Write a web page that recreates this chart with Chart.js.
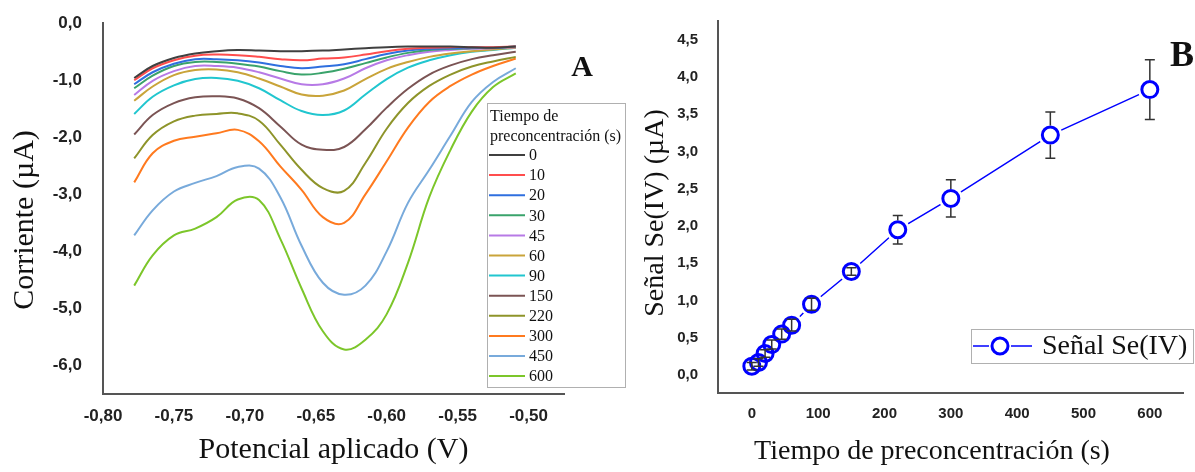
<!DOCTYPE html>
<html lang="es">
<head>
<meta charset="UTF-8">
<title>Señal Se(IV) - tiempo de preconcentración</title>
<script src="https://cdn.jsdelivr.net/npm/chart.js"></script>
<style>
  body { margin: 0; background: #fff; }
  #wrap { position: relative; width: 1195px; height: 472px; }
  #chartA { position: absolute; left: 0; top: 0; }
  #chartB { position: absolute; left: 620px; top: 0; }
</style>
</head>
<body>
<div id="wrap">
  <canvas id="chartA" width="640" height="472"></canvas>
  <canvas id="chartB" width="575" height="472"></canvas>
</div>

<script>
  // ---- Panel A: voltammograms ----
  const potentials = [-0.778, -0.765, -0.75, -0.735, -0.72, -0.705, -0.69, -0.675, -0.66, -0.645,
                      -0.63, -0.615, -0.60, -0.585, -0.57, -0.555, -0.54, -0.525, -0.509];
  const t0   = [-0.96, -0.75, -0.61, -0.53, -0.49, -0.47, -0.48, -0.49, -0.49, -0.48, -0.46, -0.44, -0.42, -0.41, -0.41, -0.41, -0.42, -0.43, -0.41];
  const t10  = [-1.00, -0.79, -0.65, -0.57, -0.55, -0.56, -0.59, -0.63, -0.65, -0.62, -0.60, -0.55, -0.49, -0.45, -0.43, -0.42, -0.42, -0.42, -0.41];
  const t20  = [-1.07, -0.86, -0.71, -0.63, -0.63, -0.65, -0.69, -0.75, -0.79, -0.76, -0.72, -0.63, -0.54, -0.48, -0.45, -0.44, -0.43, -0.43, -0.41];
  const t30  = [-1.14, -0.92, -0.75, -0.68, -0.68, -0.71, -0.76, -0.84, -0.90, -0.87, -0.80, -0.70, -0.60, -0.52, -0.47, -0.45, -0.44, -0.43, -0.41];
  const t45  = [-1.26, -1.01, -0.84, -0.75, -0.75, -0.78, -0.86, -0.97, -1.07, -1.07, -0.97, -0.79, -0.65, -0.56, -0.50, -0.47, -0.45, -0.44, -0.42];
  const t60  = [-1.36, -1.11, -0.91, -0.82, -0.81, -0.86, -0.97, -1.11, -1.25, -1.27, -1.18, -0.98, -0.80, -0.68, -0.59, -0.53, -0.49, -0.46, -0.43];
  const t90  = [-1.59, -1.29, -1.09, -0.98, -0.96, -1.01, -1.14, -1.35, -1.54, -1.61, -1.53, -1.25, -0.98, -0.78, -0.65, -0.56, -0.50, -0.47, -0.43];
  const t150 = [-1.95, -1.61, -1.40, -1.30, -1.28, -1.32, -1.49, -1.81, -2.13, -2.22, -2.17, -1.86, -1.48, -1.15, -0.90, -0.74, -0.63, -0.56, -0.50];
  const t220 = [-2.37, -1.96, -1.72, -1.62, -1.59, -1.58, -1.71, -2.13, -2.57, -2.89, -2.94, -2.45, -1.85, -1.40, -1.10, -0.90, -0.76, -0.67, -0.59];
  const t300 = [-2.79, -2.28, -2.06, -1.99, -1.93, -1.87, -2.07, -2.51, -2.92, -3.40, -3.50, -3.00, -2.42, -1.83, -1.38, -1.10, -0.90, -0.75, -0.62];
  const t450 = [-3.72, -3.28, -2.95, -2.80, -2.68, -2.52, -2.55, -3.05, -3.90, -4.55, -4.76, -4.60, -4.00, -3.15, -2.57, -1.97, -1.38, -1.03, -0.79];
  const t600 = [-4.60, -4.07, -3.72, -3.60, -3.40, -3.09, -3.10, -3.78, -4.65, -5.40, -5.72, -5.55, -5.10, -4.20, -3.05, -2.22, -1.55, -1.12, -0.88];

  const timeLabels = ['0', '10', '20', '30', '45', '60', '90', '150', '220', '300', '450', '600'];
  const curves = [t0, t10, t20, t30, t45, t60, t90, t150, t220, t300, t450, t600];
  const curveColors = ['#404040', '#ff4d4d', '#2f6fdf', '#3aa36b', '#b77ae6', '#c9a43a',
                       '#21c6cf', '#7b5454', '#8e942a', '#ff7a1f', '#78aadb', '#7cc62a'];
  const xTicksA = [-0.80, -0.75, -0.70, -0.65, -0.60, -0.55, -0.50];
  const yTicksA = [-6, -5, -4, -3, -2, -1, 0];

  // ---- Panel B: signal vs time ----
  const timesB  = [0, 10, 20, 30, 45, 60, 90, 150, 220, 300, 450, 600];
  const signalB = [0.12, 0.17, 0.29, 0.41, 0.55, 0.67, 0.95, 1.39, 1.95, 2.37, 3.22, 3.83];
  const errB    = [0.05, 0.05, 0.05, 0.06, 0.07, 0.08, 0.08, 0.05, 0.19, 0.25, 0.31, 0.40];
  const xTicksB = [0, 100, 200, 300, 400, 500, 600];
  const yTicksB = [0, 0.5, 1, 1.5, 2, 2.5, 3, 3.5, 4, 4.5];

  const comma = (v, d) => v.toFixed(d).replace('.', ',');
  const serif = 'Liberation Serif';
  const sans = 'Liberation Sans';

  function vertText(ctx, text, x, y, font) {
    ctx.save();
    ctx.translate(x, y);
    ctx.rotate(-Math.PI / 2);
    ctx.font = font;
    ctx.fillStyle = '#111';
    ctx.textAlign = 'center';
    ctx.textBaseline = 'middle';
    ctx.fillText(text, 0, 0);
    ctx.restore();
  }

  const legendA = {
    id: 'legendA',
    afterDraw(chart) {
      const ctx = chart.ctx;
      ctx.save();
      ctx.strokeStyle = '#b0b0b0';
      ctx.lineWidth = 1;
      ctx.strokeRect(487.5, 103.5, 138, 284);
      ctx.fillStyle = '#111';
      ctx.font = '16px "' + serif + '"';
      ctx.textBaseline = 'middle';
      ctx.textAlign = 'left';
      ctx.fillText('Tiempo de', 490, 117);
      ctx.fillText('preconcentración (s)', 490, 137);
      chart.data.datasets.forEach((ds, i) => {
        const y = 155 + i * 20.1;
        ctx.strokeStyle = ds.borderColor;
        ctx.lineWidth = 2;
        ctx.beginPath();
        ctx.moveTo(489, y);
        ctx.lineTo(525, y);
        ctx.stroke();
        ctx.fillText(ds.label, 529, y + 1);
      });
      ctx.font = 'bold 30px "' + serif + '"';
      ctx.textAlign = 'center';
      ctx.fillText('A', 582, 68);
      ctx.restore();
      vertText(ctx, 'Corriente (µA)', 25, 220, '30px "' + serif + '"');
    }
  };

  new Chart(document.getElementById('chartA'), {
    type: 'line',
    data: {
      datasets: curves.map((c, i) => ({
        label: timeLabels[i],
        data: c.map((v, j) => ({ x: potentials[j], y: v })),
        borderColor: curveColors[i],
        borderWidth: 2,
        pointRadius: 0,
        fill: false,
        tension: 0.4
      }))
    },
    options: {
      responsive: false,
      animation: false,
      devicePixelRatio: 1,
      layout: { padding: { left: 0, top: 23, right: 76, bottom: 0 } },
      plugins: { legend: { display: false }, tooltip: { enabled: false } },
      scales: {
        x: {
          type: 'linear', min: -0.80, max: -0.475,
          grid: { display: false },
          border: { display: true, color: '#555', width: 2 },
          afterBuildTicks: s => { s.ticks = xTicksA.map(v => ({ value: v })); },
          afterFit: s => { s.height = 78; },
          ticks: { padding: 4, color: '#222', font: { family: sans, size: 17, weight: 'bold' },
                   callback: v => comma(v, 2) },
          title: { display: true, text: 'Potencial aplicado (V)', color: '#111',
                   font: { family: serif, size: 30 }, padding: { top: 0, bottom: 4 } }
        },
        y: {
          type: 'linear', min: -6.5, max: 0,
          grid: { display: false },
          border: { display: true, color: '#555', width: 2 },
          afterBuildTicks: s => { s.ticks = yTicksA.map(v => ({ value: v })); },
          afterFit: s => { s.width = 103; },
          ticks: { padding: 13, color: '#222', font: { family: sans, size: 17, weight: 'bold' },
                   callback: v => comma(v, 1) }
        }
      }
    },
    plugins: [legendA]
  });

  const pointsB = timesB.map((t, i) => ({ x: t, y: signalB[i] }));

  const errorBars = {
    id: 'errorBars',
    afterDatasetsDraw(chart) {
      const { ctx, scales: { x, y } } = chart;
      const r = 9.5;
      ctx.save();
      ctx.strokeStyle = '#333';
      ctx.lineWidth = 1.5;
      timesB.forEach((t, i) => {
        const px = x.getPixelForValue(t);
        const py = y.getPixelForValue(signalB[i]);
        const top = y.getPixelForValue(signalB[i] + errB[i]);
        const bot = y.getPixelForValue(signalB[i] - errB[i]);
        ctx.beginPath();
        if (py - top > r) {
          ctx.moveTo(px, top); ctx.lineTo(px, py - r);
          ctx.moveTo(px, py + r); ctx.lineTo(px, bot);
        } else {
          ctx.moveTo(px, top); ctx.lineTo(px, bot);
        }
        ctx.moveTo(px - 5, top); ctx.lineTo(px + 5, top);
        ctx.moveTo(px - 5, bot); ctx.lineTo(px + 5, bot);
        ctx.stroke();
      });
      ctx.restore();
    }
  };

  const legendB = {
    id: 'legendB',
    afterDraw(chart) {
      const ctx = chart.ctx;
      ctx.save();
      ctx.strokeStyle = '#b0b0b0';
      ctx.lineWidth = 1;
      ctx.strokeRect(351.5, 329.5, 222, 34);
      ctx.strokeStyle = '#0000ff';
      ctx.lineWidth = 1.5;
      ctx.beginPath();
      ctx.moveTo(353, 346); ctx.lineTo(369, 346);
      ctx.moveTo(391, 346); ctx.lineTo(412, 346);
      ctx.stroke();
      ctx.lineWidth = 3;
      ctx.beginPath();
      ctx.arc(380, 346, 8, 0, Math.PI * 2);
      ctx.stroke();
      ctx.fillStyle = '#111';
      ctx.font = '28px "' + serif + '"';
      ctx.textBaseline = 'middle';
      ctx.fillText(chart.data.datasets[0].label, 422, 347);
      ctx.font = 'bold 36px "' + serif + '"';
      ctx.textAlign = 'center';
      ctx.fillText('B', 562, 57);
      ctx.font = '28px "' + serif + '"';
      ctx.fillText('Tiempo de preconcentración (s)', 312, 452);
      ctx.restore();
      vertText(ctx, 'Señal Se(IV) (µA)', 36, 213, '28px "' + serif + '"');
    }
  };

  new Chart(document.getElementById('chartB'), {
    type: 'line',
    data: {
      datasets: [
        { label: 'Señal Se(IV)', data: pointsB, borderColor: '#0000ff', borderWidth: 1.5,
          pointRadius: 0, tension: 0, order: 3 },
        { label: 'halo', data: pointsB, showLine: false, pointRadius: 12,
          pointBackgroundColor: '#fff', pointBorderColor: '#fff', pointBorderWidth: 0, order: 2 },
        { label: 'marcas', data: pointsB, showLine: false, pointRadius: 8,
          pointBorderWidth: 3, pointBorderColor: '#0000ff',
          pointBackgroundColor: 'rgba(0,0,0,0)', order: 1 }
      ]
    },
    options: {
      responsive: false,
      animation: false,
      devicePixelRatio: 1,
      layout: { padding: { left: 0, top: 14, right: 11, bottom: 0 } },
      plugins: { legend: { display: false }, tooltip: { enabled: false } },
      scales: {
        x: {
          type: 'linear', min: -51, max: 650,
          grid: { display: false },
          border: { display: true, color: '#555', width: 2 },
          afterBuildTicks: s => { s.ticks = xTicksB.map(v => ({ value: v })); },
          afterFit: s => { s.height = 79; },
          ticks: { padding: 4, color: '#222', font: { family: sans, size: 15, weight: 'bold' },
                   callback: v => String(v) }
        },
        y: {
          type: 'linear', min: -0.24, max: 4.75,
          grid: { display: false },
          border: { display: true, color: '#555', width: 2 },
          afterBuildTicks: s => { s.ticks = yTicksB.map(v => ({ value: v })); },
          afterFit: s => { s.width = 98; },
          ticks: { padding: 12, color: '#222', font: { family: sans, size: 15, weight: 'bold' },
                   callback: v => comma(v, 1) }
        }
      }
    },
    plugins: [errorBars, legendB]
  });
</script>
</body>
</html>
